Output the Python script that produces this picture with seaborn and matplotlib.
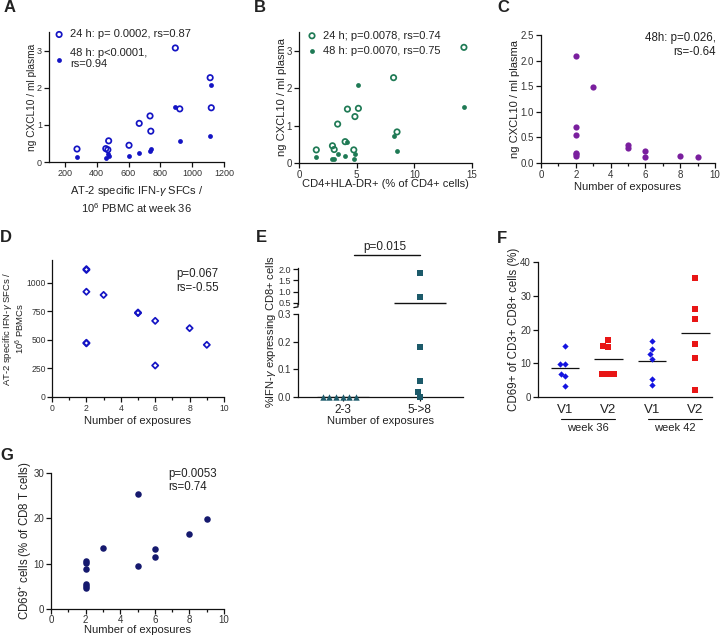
import matplotlib
matplotlib.use("Agg")
import matplotlib.pyplot as plt
import matplotlib.transforms as mtransforms
import numpy as np
import seaborn as sns
from matplotlib.ticker import MultipleLocator, FormatStrFormatter

# A: CXCL10 vs AT-2 specific IFN-g SFCs at week 36
a_sfc = [276, 457, 470, 475, 603, 667, 735, 740, 894, 922, 1113, 1120]
a_24h = [0.35, 0.36, 0.33, 0.57, 0.45, 1.04, 1.24, 0.83, 3.07, 1.43, 2.27, 1.46]
a_48h = [0.13, 0.12, 0.21, 0.15, 0.15, 0.24, 0.30, 0.35, 1.49, 0.56, 0.70, 2.08]
a_labels = ["24 h: p= 0.0002, rs=0.87", "48 h: p<0.0001,\nrs=0.94"]

# B: CXCL10 vs CD4+HLA-DR+
b_dr = [1.5, 2.9, 3.05, 3.35, 4.0, 4.2, 4.75, 4.85, 5.15, 8.2, 8.5, 14.3]
b_24h = [0.35, 0.46, 0.36, 1.04, 0.57, 1.44, 0.35, 1.24, 1.46, 2.28, 0.83, 3.09]
b_48h = [0.15, 0.12, 0.10, 0.23, 0.20, 0.55, 0.11, 0.25, 2.08, 0.71, 0.33, 1.49]
b_labels = ["24 h; p=0.0078, rs=0.74", "48 h: p=0.0070, rs=0.75"]

# C: CXCL10 (48 h) vs number of exposures
c_exp = [2, 2, 2, 2, 2, 2, 3, 5, 5, 6, 6, 8, 9]
c_cxcl = [2.09, 0.70, 0.55, 0.20, 0.17, 0.14, 1.49, 0.35, 0.29, 0.24, 0.12, 0.14, 0.11]

# D: SFCs vs number of exposures
d_exp = [2, 2, 2, 2, 2, 3, 5, 5, 6, 6, 8, 9]
d_sfc = [1120, 1113, 922, 475, 470, 894, 740, 735, 667, 276, 603, 457]

# E: % IFN-g expressing CD8+ cells by exposure group
e_groups = ["2-3", "5->8"]
e_low = [0, 0, 0, 0, 0, 0]
e_high = [1.82, 0.77, 0.18, 0.059, 0.0, 0.019]
e_break = 0.3  # top of the lower y-axis segment

# F: CD69+ of CD3+CD8+ cells
f_cats = ["V1 w36", "V2 w36", "V1 w42", "V2 w42"]
f_ticklabels = ["V1", "V2", "V1", "V2"]
f_weeks = ["week 36", "week 42"]
f_v1_w36 = [15.0, 9.7, 9.9, 6.9, 6.1, 3.4]
f_v2_w36 = [15.1, 14.9, 16.8, 6.9, 6.8, 6.8]
f_v1_w42 = [16.7, 14.1, 12.6, 11.4, 5.4, 3.7]
f_v2_w42 = [35.4, 26.1, 23.0, 15.8, 11.5, 2.1]

# G: CD69+ cells vs number of exposures
g_exp = [2, 2, 2, 2, 2, 2, 3, 5, 5, 6, 6, 8, 9]
g_cd69 = [10.6, 10.2, 8.8, 5.5, 5.1, 4.6, 13.5, 25.4, 9.5, 13.3, 11.5, 16.5, 19.9]

BLUE = "#1414c4"
GREEN = "#1f7a55"
PURPLE = "#7a1f9e"
TEAL = "#1c5a6a"
F_BLUE = "#1414e0"
F_RED = "#e81616"
NAVY = "#15196e"

sns.set_style("ticks")
plt.rcParams["font.family"] = ["Liberation Sans", "DejaVu Sans"]
plt.rcParams["mathtext.fontset"] = "custom"
plt.rcParams["mathtext.rm"] = "Liberation Sans"
plt.rcParams["mathtext.it"] = "Liberation Sans:italic"
plt.rcParams["text.color"] = "#222222"
plt.rcParams["axes.labelcolor"] = "#222222"

W, H = 720, 638
fig = plt.figure(figsize=(W / 100, H / 100), dpi=100)


def add_axes(left, top, right, bottom):
    return fig.add_axes([left / W, 1 - bottom / H, (right - left) / W, (bottom - top) / H])


def style(ax, size=7):
    sns.despine(ax=ax)
    for s in ("left", "bottom"):
        ax.spines[s].set_linewidth(0.9)
        ax.spines[s].set_color("#111111")
    ax.tick_params(direction="out", length=3.5, width=0.9, labelsize=size,
                   pad=1.5, labelcolor="#333333", color="#111111")
    ax.tick_params(which="minor", length=2, width=0.9, color="#111111")


def letter(x, y, s):
    fig.text(x / W, 1 - y / H, s, fontsize=12, fontweight="bold", va="center", ha="left")


gamma = r"$\gamma$"

# ---------- A ----------
ax = add_axes(49, 32, 224, 162)
sns.scatterplot(x=a_sfc, y=a_24h, ax=ax, marker="o", s=15, color=BLUE, facecolor="none",
                edgecolor=BLUE, linewidth=1.25, label=a_labels[0], clip_on=False, zorder=3)
sns.scatterplot(x=a_sfc, y=a_48h, ax=ax, marker="o", s=12, color=BLUE, edgecolor=BLUE,
                linewidth=0, label=a_labels[1], clip_on=False, zorder=3)
ax.set_xlim(100, 1200)
ax.set_ylim(0, 3.5)
ax.set_xticks(range(200, 1201, 200))
ax.set_yticks([0, 1, 2, 3])
style(ax, 6.5)
ax.set_xlabel("AT-2 specific IFN-" + gamma + " SFCs /\n10$^6$ PBMC at week 36", fontsize=8, linespacing=1.3)
ax.set_ylabel("ng CXCL10 / ml plasma", fontsize=7.3)
ax.xaxis.set_label_coords(0.5, -0.17)
ax.yaxis.set_label_coords(-0.07, 0.5)
ax.legend(loc="upper left", bbox_to_anchor=(0.026, 1.02), frameon=False, fontsize=8,
          handlelength=1.0, handletextpad=0.5, borderpad=0, borderaxespad=0, labelspacing=0.75)
letter(4, 8, "A")

# ---------- B ----------
ax = add_axes(299, 32, 472, 163)
sns.scatterplot(x=b_dr, y=b_24h, ax=ax, marker="o", s=15, color=GREEN, facecolor="none",
                edgecolor=GREEN, linewidth=1.25, label=b_labels[0], clip_on=False, zorder=3)
sns.scatterplot(x=b_dr, y=b_48h, ax=ax, marker="o", s=12, color=GREEN, edgecolor=GREEN,
                linewidth=0, label=b_labels[1], clip_on=False, zorder=3)
ax.set_xlim(0, 15)
ax.set_ylim(0, 3.5)
ax.set_xticks([0, 5, 10, 15])
ax.set_yticks([0, 1, 2, 3])
style(ax, 7)
ax.set_xlabel("CD4+HLA-DR+ (% of CD4+ cells)", fontsize=8)
ax.set_ylabel("ng CXCL10 / ml plasma", fontsize=8)
ax.xaxis.set_label_coords(0.5, -0.12)
ax.yaxis.set_label_coords(-0.07, 0.5)
ax.legend(loc="upper left", bbox_to_anchor=(0.043, 1.01), frameon=False, fontsize=8,
          handlelength=1.0, handletextpad=0.5, borderpad=0, borderaxespad=0, labelspacing=0.5)
letter(254, 8, "B")

# ---------- C ----------
ax = add_axes(541, 35, 715, 163)
sns.scatterplot(x=c_exp, y=c_cxcl, ax=ax, marker="o", s=20, color=PURPLE, edgecolor=PURPLE,
                linewidth=0, clip_on=False, zorder=3)
ax.set_xlim(0, 10)
ax.set_ylim(0, 2.5)
ax.set_xticks(range(0, 11, 2))
ax.xaxis.set_minor_locator(MultipleLocator(1))
ax.set_yticks(np.arange(0, 2.51, 0.5))
ax.yaxis.set_major_formatter(FormatStrFormatter("%.1f"))
style(ax, 7)
ax.set_xlabel("Number of exposures", fontsize=8)
ax.set_ylabel("ng CXCL10 / ml plasma", fontsize=8)
ax.xaxis.set_label_coords(0.5, -0.15)
ax.yaxis.set_label_coords(-0.12, 0.5)
ax.text(1.005, 1.02, "48h: p=0.026,\nrs=-0.64", transform=ax.transAxes, ha="right", va="top",
        fontsize=8.3, multialignment="right")
letter(497, 8, "C")

# ---------- D ----------
ax = add_axes(52, 260, 224, 397)
sns.scatterplot(x=d_exp, y=d_sfc, ax=ax, marker="D", s=10, color=BLUE, facecolor="none",
                edgecolor=BLUE, linewidth=1.25, clip_on=False, zorder=3)
ax.set_xlim(0, 10)
ax.set_ylim(0, 1200)
ax.set_xticks(range(0, 11, 2))
ax.xaxis.set_minor_locator(MultipleLocator(1))
ax.set_yticks(range(0, 1001, 250))
style(ax, 6.2)
ax.tick_params(axis="y", pad=1)
ax.set_xlabel("Number of exposures", fontsize=8)
ax.set_ylabel("AT-2 specific IFN-" + gamma + " SFCs /\n10$^6$ PBMCs", fontsize=6.8, linespacing=0.95)
ax.xaxis.set_label_coords(0.5, -0.14)
ax.yaxis.set_label_coords(-0.148, 0.5)
ax.text(0.72, 0.94, "p=0.067\nrs=-0.55", transform=ax.transAxes, ha="left", va="top", fontsize=8.3)
letter(0, 237, "D")

# ---------- E (broken y axis) ----------
ax_lo = add_axes(298, 314, 463, 397)
ax_hi = add_axes(298, 268, 463, 304)
e_xlim = (-0.58, 1.56)
e_high_lo = [v for v in e_high if v <= e_break]
e_high_hi = [v for v in e_high if v > e_break]
sns.swarmplot(x=[e_groups[0]] * len(e_low), y=e_low, order=e_groups, ax=ax_lo, marker="^",
              size=4.6, color=TEAL, clip_on=False, zorder=3)
sns.swarmplot(x=[e_groups[1]] * len(e_high_lo), y=e_high_lo, order=e_groups, ax=ax_lo,
              marker="s", size=4.0, color=TEAL, clip_on=False, zorder=3)
sns.swarmplot(x=[e_groups[1]] * len(e_high_hi), y=e_high_hi, order=e_groups, ax=ax_hi,
              marker="s", size=4.0, color=TEAL, clip_on=False, zorder=3)
for a in (ax_lo, ax_hi):
    a.set_xlim(*e_xlim)
ax_lo.set_ylim(0, e_break)
ax_hi.set_ylim(0.45, 2.05)
ax_lo.set_yticks([0, 0.1, 0.2, 0.3])
ax_lo.yaxis.set_major_formatter(FormatStrFormatter("%.1f"))
ax_hi.set_yticks([0.5, 1.0, 1.5, 2.0])
ax_hi.yaxis.set_major_formatter(FormatStrFormatter("%.1f"))
style(ax_lo, 7)
style(ax_hi, 6.5)
ax_hi.spines["bottom"].set_visible(False)
ax_hi.tick_params(axis="x", bottom=False, labelbottom=False)
ax_lo.set_xticks([0, 1])
ax_lo.set_xticklabels(e_groups, fontsize=8.5, color="#222222")
ax_lo.tick_params(axis="x", length=3, pad=2)
ax_lo.set_xlabel("Number of exposures", fontsize=8)
ax_lo.xaxis.set_label_coords(0.5, -0.225)
ax_lo.set_ylabel("")
ax_hi.set_ylabel("")
# group means
e_means = [np.mean(e_low), np.mean(e_high)]
ax_lo.hlines(e_means[0], -0.34, 0.34, color="#111111", lw=0.9, zorder=2)
ax_hi.hlines(e_means[1], 1 - 0.34, 1 + 0.34, color="#111111", lw=1.0, zorder=2, clip_on=False)
# break mark on the upper spine
ax_hi.plot([-0.025, 0.0, 0.0], [-0.1, -0.08, 0.0], transform=ax_hi.transAxes, color="#111111",
           lw=0.9, clip_on=False)
# significance bar
tr = mtransforms.blended_transform_factory(ax_hi.transData, ax_hi.transAxes)
ax_hi.plot([0.15, 1.0], [1.36, 1.36], transform=tr, color="#111111", lw=1.0, clip_on=False)
ax_hi.text(0.55, 1.42, "p=0.015", transform=tr, ha="center", va="bottom", fontsize=8.5)
fig.text(271 / W, 1 - 332 / H, "%IFN-" + gamma + " expressing CD8+ cells", rotation=90,
         ha="center", va="center", fontsize=8)
letter(256, 237, "E")

# ---------- F ----------
ax = add_axes(538, 262, 712, 397)
f_data = [f_v1_w36, f_v2_w36, f_v1_w42, f_v2_w42]
f_marks = [("D", F_BLUE, 3.2), ("s", F_RED, 4.1), ("D", F_BLUE, 3.2), ("s", F_RED, 4.1)]
for cat, vals, (m, c, sz) in zip(f_cats, f_data, f_marks):
    sns.swarmplot(x=[cat] * len(vals), y=vals, order=f_cats, ax=ax, marker=m, size=sz,
                  color=c, zorder=3)
for i, vals in enumerate(f_data):
    ax.hlines(np.mean(vals), i - 0.33, i + 0.33, color="#111111", lw=0.9, zorder=2)
ax.set_xlim(-0.62, 3.38)
ax.set_ylim(0, 40)
ax.set_yticks(range(0, 41, 10))
style(ax, 7)
ax.set_xticks(range(4))
ax.set_xticklabels(f_ticklabels, fontsize=9.5, color="#222222")
ax.tick_params(axis="x", length=0, pad=5)
ax.set_ylabel("CD69+ of CD3+ CD8+ cells (%)", fontsize=8.3)
ax.yaxis.set_label_coords(-0.105, 0.5)
tr = mtransforms.blended_transform_factory(ax.transData, ax.transAxes)
for k, wk in enumerate(f_weeks):
    x0 = 2 * k
    ax.plot([x0 - 0.1, x0 + 1.15], [-0.163, -0.163], transform=tr, color="#111111", lw=0.8,
            clip_on=False)
    ax.text(x0 + 0.52, -0.19, wk, transform=tr, ha="center", va="top", fontsize=8)
letter(497, 238, "F")

# ---------- G ----------
ax = add_axes(51, 473, 224, 609)
sns.scatterplot(x=g_exp, y=g_cd69, ax=ax, marker="o", s=22, color=NAVY, edgecolor=NAVY,
                linewidth=0, clip_on=False, zorder=3)
ax.set_xlim(0, 10)
ax.set_ylim(0, 30)
ax.set_xticks(range(0, 11, 2))
ax.xaxis.set_minor_locator(MultipleLocator(1))
ax.set_yticks([0, 10, 20, 30])
style(ax, 7)
ax.tick_params(axis="x", pad=1)
ax.set_xlabel("Number of exposures", fontsize=8)
ax.set_ylabel("CD69$^{+}$ cells (% of CD8 T cells)", fontsize=8.3)
ax.xaxis.set_label_coords(0.5, -0.118)
ax.yaxis.set_label_coords(-0.1, 0.5)
ax.text(0.68, 1.04, "p=0.0053\nrs=0.74", transform=ax.transAxes, ha="left", va="top", fontsize=8.3)
letter(0, 456, "G")

fig.savefig("out.png", dpi=100)
